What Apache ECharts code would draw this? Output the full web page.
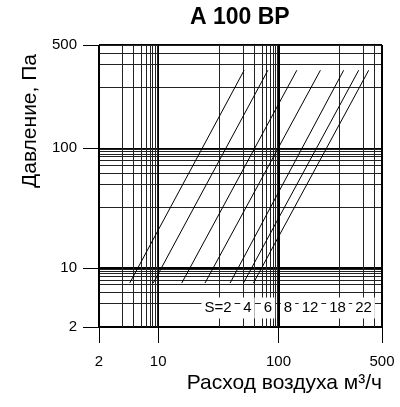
<!DOCTYPE html>
<html>
<head>
<meta charset="utf-8">
<script src="https://cdn.jsdelivr.net/npm/echarts@6/dist/echarts.min.js"></script>
<style>
  html, body { margin: 0; padding: 0; background: #fff; }
  #chart { width: 400px; height: 407px; }
</style>
</head>
<body>
<div id="chart"></div>
<script>
const FONT = '"Liberation Sans", Arial, sans-serif';

// the drawing labels its grid edges "2" and "500", but its lines only match
// the 10 / 100 decades when the edges sit at these values
const X_MIN = 3.22, X_MAX = 725;
const Y_MIN = 3.22, Y_MAX = 730;

const xTickValues = [X_MIN, 10, 100, X_MAX];
const xTickLabels = ["2", "10", "100", "500"];
const yTickValues = [Y_MIN, 10, 100, Y_MAX];
const yTickLabels = ["2", "10", "100", "500"];

// thin grid lines inside one decade, as drawn
const gridSteps = [3.22, 5.05, 6.24, 7.28, 7.94, 8.51, 8.97, 9.38, 9.77];

// S lines: flow (m3/h) at both ends, pressure (Pa) at both ends
const sValues = [2, 4, 6, 8, 12, 18, 22];
const flowStart = [5.8, 9.1, 15.7, 24.5, 39.6, 51.1, 61.9];
const flowEnd = [51.8, 81.6, 142, 223, 348, 464, 562];
const pressureStart = 7.5;
const pressureEnd = 449;

// label row under the lines (pixel centres)
const sLabelX = [218, 247.5, 268, 288, 310, 337.5, 363.5];
const sLabelY = 308;

function minorValues(min, max) {
  const out = [];
  [1, 10, 100].forEach((d) => {
    gridSteps.forEach((m) => {
      const v = +(m * d).toPrecision(4);
      if (v > min && v < max) out.push(v);
    });
  });
  return out;
}

function labelFor(v, values, labels) {
  const i = values.findIndex((t) => Math.abs(Math.log10(t) - Math.log10(v)) < 0.01);
  return i < 0 ? "" : labels[i];
}

const xMinor = minorValues(X_MIN, X_MAX);
const yMinor = minorValues(Y_MIN, Y_MAX);

const mainLine = { color: "#000", width: 1 };

const chart = echarts.init(document.getElementById("chart"));
chart.setOption({
  animation: false,
  title: {
    text: "A 100 BP",
    left: 185,
    top: 1,
    textStyle: { fontFamily: FONT, fontSize: 23, fontWeight: "bold", color: "#000" },
  },
  grid: { left: 99, right: 18, top: 45, bottom: 80 },
  xAxis: [
    {
      type: "log",
      logBase: 10,
      min: X_MIN,
      max: X_MAX,
      position: "bottom",
      name: "Расход воздуха м³/ч",
      nameLocation: "end",
      nameGap: 0,
      nameTextStyle: {
        fontFamily: FONT, fontSize: 21, color: "#000",
        align: "right", verticalAlign: "top", padding: [46, 0, 0, 0],
      },
      axisLine: { show: true, lineStyle: mainLine },
      axisTick: { show: true, length: 16, customValues: xTickValues, lineStyle: mainLine },
      axisLabel: {
        customValues: xTickValues,
        formatter: (v) => labelFor(v, xTickValues, xTickLabels),
        margin: 27, fontFamily: FONT, fontSize: 15, color: "#000",
        showMinLabel: true, showMaxLabel: true,
      },
      splitLine: { show: true, lineStyle: { color: "#000", width: 2 } },
    },
    {
      type: "log",
      logBase: 10,
      min: X_MIN,
      max: X_MAX,
      position: "top",
      axisLine: { show: false },
      axisLabel: { show: false },
      axisTick: { show: false, customValues: xMinor },
      splitLine: { show: true, customValues: xMinor, lineStyle: { color: "#222", width: 1 } },
    },
  ],
  yAxis: [
    {
      type: "log",
      logBase: 10,
      min: Y_MIN,
      max: Y_MAX,
      position: "left",
      name: "Давление, Па",
      nameLocation: "middle",
      nameGap: 56,
      nameTextStyle: { fontFamily: FONT, fontSize: 21, color: "#000", padding: [0, 0, 0, 130] },
      axisLine: { show: true, lineStyle: mainLine },
      axisTick: { show: true, length: 16, customValues: yTickValues, lineStyle: mainLine },
      axisLabel: {
        customValues: yTickValues,
        formatter: (v) => labelFor(v, yTickValues, yTickLabels),
        margin: 22, fontFamily: FONT, fontSize: 15, color: "#000",
        showMinLabel: true, showMaxLabel: true,
      },
      splitLine: { show: true, lineStyle: { color: "#000", width: 2 } },
    },
    {
      type: "log",
      logBase: 10,
      min: Y_MIN,
      max: Y_MAX,
      position: "right",
      axisLine: { show: false },
      axisLabel: { show: false },
      axisTick: { show: false, customValues: yMinor },
      splitLine: { show: true, customValues: yMinor, lineStyle: { color: "#222", width: 1 } },
    },
  ],
  series: sValues.map((s, i) => ({
    name: "S=" + s,
    type: "line",
    xAxisIndex: 0,
    yAxisIndex: 0,
    data: [[flowStart[i], pressureStart], [flowEnd[i], pressureEnd]],
    symbol: "none",
    silent: true,
    z: 5,
    lineStyle: { color: "#000", width: 1 },
  })),
  graphic: sValues.map((s, i) => ({
    type: "text",
    x: sLabelX[i],
    y: sLabelY,
    z: 100,
    silent: true,
    style: {
      text: (i === 0 ? "S=" : "") + s,
      font: "15px " + FONT,
      fill: "#000",
      align: "center",
      textAlign: "center",
      verticalAlign: "middle",
      textVerticalAlign: "middle",
      backgroundColor: "#fff",
      padding: [3, 3],
    },
  })),
});
</script>
</body>
</html>
